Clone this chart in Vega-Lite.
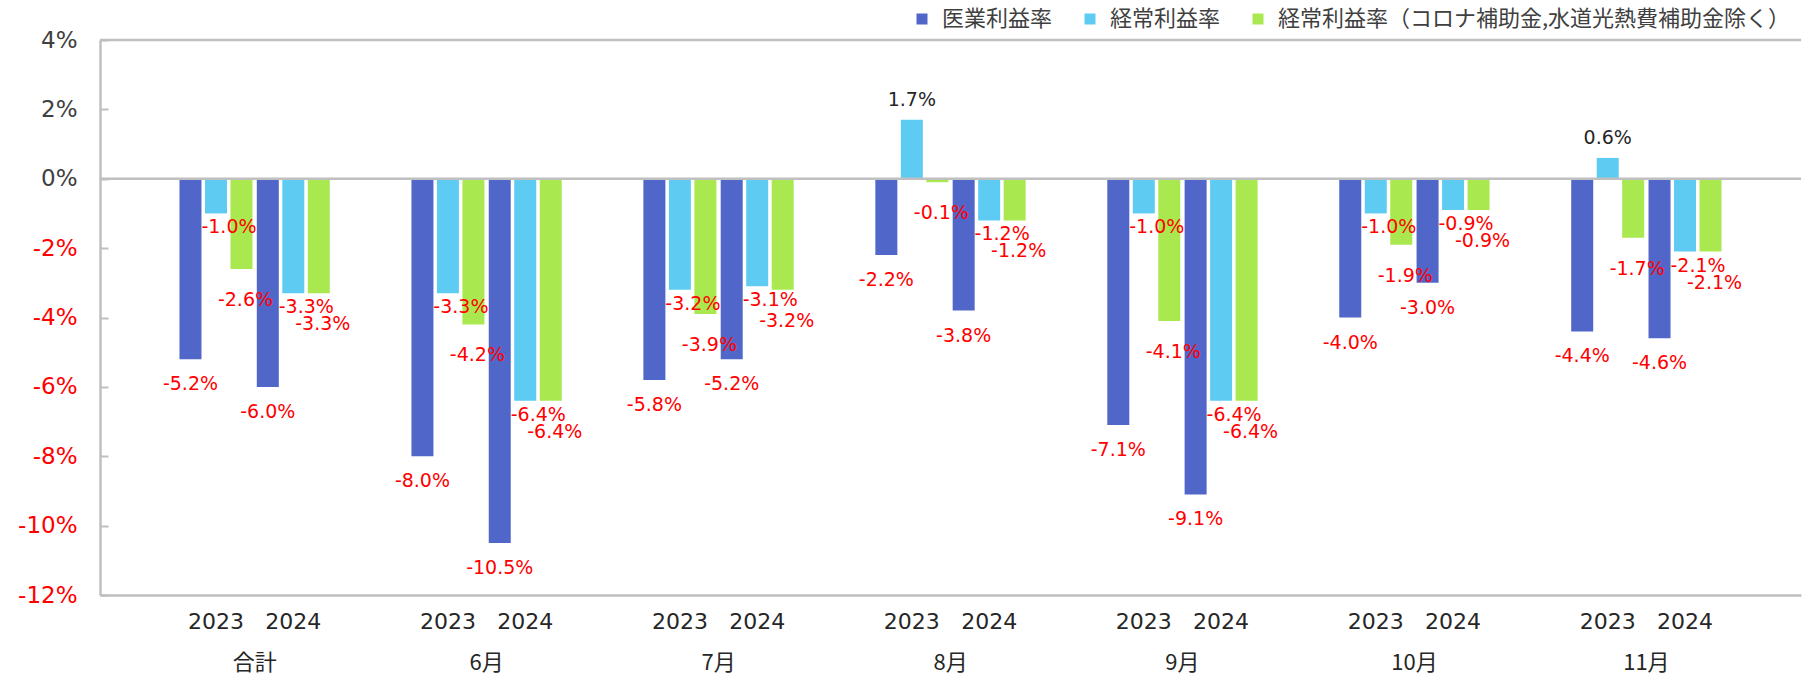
{
  "$schema": "https://vega.github.io/schema/vega-lite/v6.json",
  "width": 1701,
  "height": 555,
  "autosize": {"type": "none"},
  "padding": {"left": 100, "top": 40, "right": 1, "bottom": 81},
  "background": "white",
  "config": {
    "view": {"stroke": null},
    "locale": {"number": {"decimal": ".", "thousands": ",", "grouping": [3], "currency": ["", ""], "minus": "-"}}
  },
  "datasets": {
    "bars": [
      {"key": "合計|2023", "series": "医業利益率", "value": -0.052},
      {"key": "合計|2023", "series": "経常利益率", "value": -0.010},
      {"key": "合計|2023", "series": "経常利益率（コロナ補助金,水道光熱費補助金除く）", "value": -0.026},
      {"key": "合計|2024", "series": "医業利益率", "value": -0.060},
      {"key": "合計|2024", "series": "経常利益率", "value": -0.033},
      {"key": "合計|2024", "series": "経常利益率（コロナ補助金,水道光熱費補助金除く）", "value": -0.033},
      {"key": "6月|2023", "series": "医業利益率", "value": -0.080},
      {"key": "6月|2023", "series": "経常利益率", "value": -0.033},
      {"key": "6月|2023", "series": "経常利益率（コロナ補助金,水道光熱費補助金除く）", "value": -0.042},
      {"key": "6月|2024", "series": "医業利益率", "value": -0.105},
      {"key": "6月|2024", "series": "経常利益率", "value": -0.064},
      {"key": "6月|2024", "series": "経常利益率（コロナ補助金,水道光熱費補助金除く）", "value": -0.064},
      {"key": "7月|2023", "series": "医業利益率", "value": -0.058},
      {"key": "7月|2023", "series": "経常利益率", "value": -0.032},
      {"key": "7月|2023", "series": "経常利益率（コロナ補助金,水道光熱費補助金除く）", "value": -0.039},
      {"key": "7月|2024", "series": "医業利益率", "value": -0.052},
      {"key": "7月|2024", "series": "経常利益率", "value": -0.031},
      {"key": "7月|2024", "series": "経常利益率（コロナ補助金,水道光熱費補助金除く）", "value": -0.032},
      {"key": "8月|2023", "series": "医業利益率", "value": -0.022},
      {"key": "8月|2023", "series": "経常利益率", "value": 0.017},
      {"key": "8月|2023", "series": "経常利益率（コロナ補助金,水道光熱費補助金除く）", "value": -0.001},
      {"key": "8月|2024", "series": "医業利益率", "value": -0.038},
      {"key": "8月|2024", "series": "経常利益率", "value": -0.012},
      {"key": "8月|2024", "series": "経常利益率（コロナ補助金,水道光熱費補助金除く）", "value": -0.012},
      {"key": "9月|2023", "series": "医業利益率", "value": -0.071},
      {"key": "9月|2023", "series": "経常利益率", "value": -0.010},
      {"key": "9月|2023", "series": "経常利益率（コロナ補助金,水道光熱費補助金除く）", "value": -0.041},
      {"key": "9月|2024", "series": "医業利益率", "value": -0.091},
      {"key": "9月|2024", "series": "経常利益率", "value": -0.064},
      {"key": "9月|2024", "series": "経常利益率（コロナ補助金,水道光熱費補助金除く）", "value": -0.064},
      {"key": "10月|2023", "series": "医業利益率", "value": -0.040},
      {"key": "10月|2023", "series": "経常利益率", "value": -0.010},
      {"key": "10月|2023", "series": "経常利益率（コロナ補助金,水道光熱費補助金除く）", "value": -0.019},
      {"key": "10月|2024", "series": "医業利益率", "value": -0.030},
      {"key": "10月|2024", "series": "経常利益率", "value": -0.009},
      {"key": "10月|2024", "series": "経常利益率（コロナ補助金,水道光熱費補助金除く）", "value": -0.009},
      {"key": "11月|2023", "series": "医業利益率", "value": -0.044},
      {"key": "11月|2023", "series": "経常利益率", "value": 0.006},
      {"key": "11月|2023", "series": "経常利益率（コロナ補助金,水道光熱費補助金除く）", "value": -0.017},
      {"key": "11月|2024", "series": "医業利益率", "value": -0.046},
      {"key": "11月|2024", "series": "経常利益率", "value": -0.021},
      {"key": "11月|2024", "series": "経常利益率（コロナ補助金,水道光熱費補助金除く）", "value": -0.021}
    ],
    "groups": [
      {"key": "合計|2023", "group": "合計"},
      {"key": "6月|2023", "group": "6月"},
      {"key": "7月|2023", "group": "7月"},
      {"key": "8月|2023", "group": "8月"},
      {"key": "9月|2023", "group": "9月"},
      {"key": "10月|2023", "group": "10月"},
      {"key": "11月|2023", "group": "11月"}
    ]
  },
  "layer": [
    {
      "data": {"name": "bars"},
      "mark": {"type": "bar"},
      "encoding": {
        "x": {
          "field": "key", "type": "nominal",
          "scale": {
            "domain": ["合計|", "合計|2023", "合計|2024", "6月|", "6月|2023", "6月|2024", "7月|", "7月|2023", "7月|2024", "8月|", "8月|2023", "8月|2024", "9月|", "9月|2023", "9月|2024", "10月|", "10月|2023", "10月|2024", "11月|", "11月|2023", "11月|2024", "end|"],
            "paddingInner": 0.056, "paddingOuter": 0.028
          },
          "axis": {
            "title": null,
            "labelExpr": "split(datum.value, '|')[1]",
            "labelAngle": 0,
            "labelFont": "DejaVu Sans",
            "labelFontSize": 22,
            "labelColor": "#262626",
            "labelBaseline": "middle",
            "labelPadding": 26,
            "ticks": false,
            "domainColor": "#BFBFBF",
            "domainWidth": 2.5,
            "grid": false
          }
        },
        "xOffset": {
          "field": "series", "type": "nominal",
          "sort": ["医業利益率", "経常利益率", "経常利益率（コロナ補助金,水道光熱費補助金除く）"],
          "scale": {"paddingInner": 0.137, "paddingOuter": 0}
        },
        "y": {
          "field": "value", "type": "quantitative",
          "scale": {"domain": [-0.12, 0.04], "nice": false, "zero": false},
          "axis": {
            "title": null,
            "values": [-0.12, -0.10, -0.08, -0.06, -0.04, -0.02, 0, 0.02, 0.04],
            "format": ".0%",
            "labelFont": "DejaVu Sans",
            "labelFontSize": 23,
            "labelColor": {"condition": {"test": "datum.value < 0", "value": "#FF0000"}, "value": "#404040"},
            "labelPadding": 31,
            "tickSize": -8,
            "tickColor": "#BFBFBF",
            "tickWidth": 2,
            "domainColor": "#BFBFBF",
            "domainWidth": 2.5,
            "grid": false
          }
        },
        "color": {
          "field": "series", "type": "nominal",
          "sort": ["医業利益率", "経常利益率", "経常利益率（コロナ補助金,水道光熱費補助金除く）"],
          "scale": {"range": ["#5066C8", "#5ECCF2", "#A9E94F"]},
          "legend": {
            "title": null,
            "orient": "none",
            "legendX": 811,
            "legendY": -32,
            "direction": "horizontal",
            "symbolType": "square",
            "symbolSize": 121,
            "symbolStrokeWidth": 0,
            "labelFont": "Noto Sans CJK JP",
            "labelFontSize": 22,
            "labelColor": "#404040",
            "labelLimit": 900,
            "labelOffset": 9,
            "columnPadding": 26,
            "padding": 0
          }
        }
      }
    },
    {
      "data": {"name": "bars"},
      "transform": [{"filter": "datum.value < 0 && datum.series == '医業利益率'"}],
      "mark": {"type": "text", "baseline": "middle", "align": "center", "dy": 25, "font": "DejaVu Sans", "fontSize": 19, "color": "#FF0000"},
      "encoding": {
        "x": {"field": "key", "type": "nominal"},
        "xOffset": {"field": "series", "type": "nominal", "sort": ["医業利益率", "経常利益率", "経常利益率（コロナ補助金,水道光熱費補助金除く）"]},
        "y": {"field": "value", "type": "quantitative"},
        "text": {"field": "value", "type": "quantitative", "format": ".1%"}
      }
    },
    {
      "data": {"name": "bars"},
      "transform": [{"filter": "datum.value < 0 && datum.series == '経常利益率'"}],
      "mark": {"type": "text", "baseline": "middle", "align": "center", "dx": 13, "dy": 14, "font": "DejaVu Sans", "fontSize": 19, "color": "#FF0000"},
      "encoding": {
        "x": {"field": "key", "type": "nominal"},
        "xOffset": {"field": "series", "type": "nominal", "sort": ["医業利益率", "経常利益率", "経常利益率（コロナ補助金,水道光熱費補助金除く）"]},
        "y": {"field": "value", "type": "quantitative"},
        "text": {"field": "value", "type": "quantitative", "format": ".1%"}
      }
    },
    {
      "data": {"name": "bars"},
      "transform": [{"filter": "datum.value < 0 && datum.series != '医業利益率' && datum.series != '経常利益率'"}],
      "mark": {"type": "text", "baseline": "middle", "align": "center", "dx": 4, "dy": 31, "font": "DejaVu Sans", "fontSize": 19, "color": "#FF0000"},
      "encoding": {
        "x": {"field": "key", "type": "nominal"},
        "xOffset": {"field": "series", "type": "nominal", "sort": ["医業利益率", "経常利益率", "経常利益率（コロナ補助金,水道光熱費補助金除く）"]},
        "y": {"field": "value", "type": "quantitative"},
        "text": {"field": "value", "type": "quantitative", "format": ".1%"}
      }
    },
    {
      "data": {"name": "bars"},
      "transform": [{"filter": "datum.value >= 0"}],
      "mark": {"type": "text", "baseline": "middle", "align": "center", "dy": -20, "font": "DejaVu Sans", "fontSize": 19, "color": "#262626"},
      "encoding": {
        "x": {"field": "key", "type": "nominal"},
        "xOffset": {"field": "series", "type": "nominal", "sort": ["医業利益率", "経常利益率", "経常利益率（コロナ補助金,水道光熱費補助金除く）"]},
        "y": {"field": "value", "type": "quantitative"},
        "text": {"field": "value", "type": "quantitative", "format": ".1%"}
      }
    },
    {
      "data": {"name": "groups"},
      "mark": {"type": "text", "baseline": "middle", "align": "center", "dy": 68, "font": "Noto Sans CJK JP", "fontSize": 22, "color": "#262626"},
      "encoding": {
        "x": {"field": "key", "type": "nominal", "bandPosition": 1.03},
        "y": {"datum": -0.12, "type": "quantitative"},
        "text": {"field": "group", "type": "nominal"}
      }
    },
    {
      "data": {"values": [{"v": 0}, {"v": 0.04}]},
      "mark": {"type": "rule", "color": "#BFBFBF", "strokeWidth": 2.5},
      "encoding": {
        "y": {"field": "v", "type": "quantitative"}
      }
    }
  ]
}
